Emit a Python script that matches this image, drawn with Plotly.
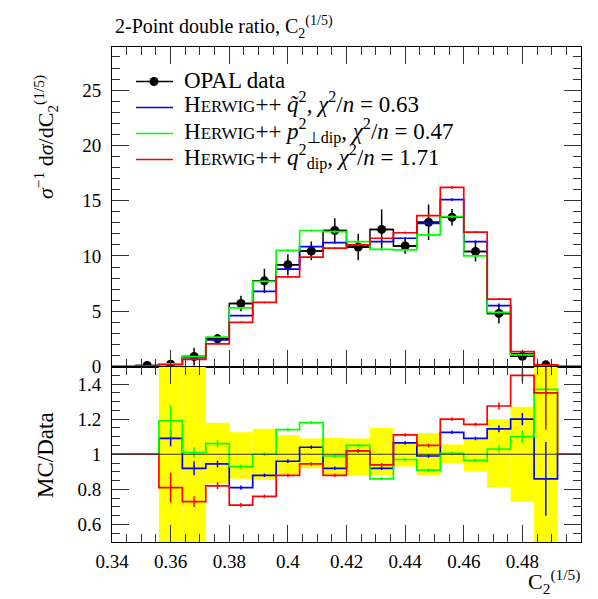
import plotly.graph_objects as go

# ---------------- data ----------------
bin_centers = [0.344, 0.352, 0.360, 0.368, 0.376, 0.384, 0.392, 0.400, 0.408, 0.416,
               0.424, 0.432, 0.440, 0.448, 0.456, 0.464, 0.472, 0.480, 0.488, 0.496]
bin_edges = [0.340, 0.348, 0.356, 0.364, 0.372, 0.380, 0.388, 0.396, 0.404, 0.412, 0.420,
             0.428, 0.436, 0.444, 0.452, 0.460, 0.468, 0.476, 0.484, 0.492, 0.500]
bin_half_width = 0.004

opal = [None, 0.1, 0.2, 0.9, 2.5, 5.7, 7.75, 9.2, 10.45, 12.3,
        10.8, 12.4, 10.9, 13.05, 13.5, 10.4, 4.8, 0.93, 0.15, None]
opal_err = [0, 0.1, 0.15, 0.8, 0.45, 0.7, 1.1, 0.95, 0.85, 1.1,
            1.2, 1.8, 0.7, 1.6, 0.75, 0.9, 0.9, 0.3, 0.15, 0]

herwig_qtilde = [0, 0.02, 0.22, 0.8, 2.4, 4.6, 6.8, 8.8, 10.85, 11.2,
                 11.0, 11.3, 11.6, 12.95, 15.1, 11.3, 5.5, 1.15, 0.12, 0]
herwig_ptdip = [0, 0.02, 0.24, 0.9, 2.65, 5.3, 7.7, 10.5, 12.3, 12.2,
                11.3, 10.6, 10.55, 11.9, 13.55, 10.0, 4.9, 1.05, 0.15, 0]
herwig_qdip = [0, 0.02, 0.16, 0.65, 2.05, 4.0, 5.8, 8.1, 9.9, 10.7,
               11.0, 11.6, 12.1, 13.65, 16.2, 12.15, 6.1, 1.35, 0.15, 0]
herwig_qtilde_err = [0, 0, 0.02, 0.03, 0.05, 0.06, 0.08, 0.1, 0.1, 0.1,
                     0.1, 0.1, 0.1, 0.12, 0.12, 0.1, 0.08, 0.04, 0.03, 0]
herwig_ptdip_err = [0, 0, 0.02, 0.03, 0.05, 0.06, 0.08, 0.1, 0.1, 0.1,
                    0.1, 0.1, 0.1, 0.12, 0.12, 0.1, 0.08, 0.04, 0.03, 0]
herwig_qdip_err = [0, 0, 0.02, 0.03, 0.05, 0.06, 0.08, 0.1, 0.1, 0.1,
                   0.1, 0.1, 0.1, 0.12, 0.12, 0.1, 0.08, 0.04, 0.03, 0]

# ratio panel (MC / Data)
ratio_qtilde = [1, 1, 1.09, 0.92, 0.945, 0.81, 0.88, 0.96, 1.04, 0.92,
                1.02, 0.92, 1.065, 0.99, 1.125, 1.09, 1.145, 1.2, 0.86, 1]
ratio_ptdip = [1, 1, 1.19, 1.01, 1.06, 0.93, 1.0, 1.14, 1.18, 0.99,
               1.05, 0.86, 0.97, 0.91, 1.005, 0.965, 1.03, 1.10, 1.37, 1]
ratio_qdip = [1, 1, 0.81, 0.73, 0.82, 0.71, 0.76, 0.88, 0.945, 0.88,
              1.02, 0.94, 1.11, 1.05, 1.2, 1.17, 1.275, 1.45, 1.35, 1]
ratio_qtilde_err = [0, 0, 0.045, 0.04, 0.02, 0.012, 0.01, 0.01, 0.01, 0.01,
                    0.01, 0.01, 0.01, 0.01, 0.01, 0.01, 0.02, 0.035, 0.21, 0]
ratio_ptdip_err = [0, 0, 0.09, 0.03, 0.02, 0.012, 0.01, 0.01, 0.01, 0.01,
                   0.01, 0.01, 0.01, 0.01, 0.01, 0.01, 0.02, 0.035, 0.2, 0]
ratio_qdip_err = [0, 0, 0.085, 0.03, 0.02, 0.012, 0.01, 0.01, 0.01, 0.01,
                  0.01, 0.01, 0.01, 0.01, 0.01, 0.01, 0.02, 0.04, 0.21, 0]

# data uncertainty band in the ratio panel
band_lo = [1, 1, 0.0, 0.0, 0.83, 0.86, 0.855, 0.885, 0.92, 0.88,
           0.88, 0.88, 0.93, 0.88, 0.95, 0.90, 0.81, 0.73, 0.0, 1]
band_hi = [1, 1, 2.0, 2.0, 1.18, 1.125, 1.145, 1.11, 1.09, 1.093,
           1.09, 1.15, 1.07, 1.12, 1.055, 1.085, 1.2, 1.27, 2.0, 1]

x_tick_vals = [0.34, 0.36, 0.38, 0.40, 0.42, 0.44, 0.46, 0.48]
x_tick_text = ["0.34", "0.36", "0.38", "0.4", "0.42", "0.44", "0.46", "0.48"]
y_main_ticks = [0, 5, 10, 15, 20, 25]
y_ratio_ticks = [0.6, 0.8, 1.0, 1.2, 1.4]
y_ratio_text = ["0.6", "0.8", "1", "1.2", "1.4"]

series = [
    ("blue", herwig_qtilde, herwig_qtilde_err, ratio_qtilde, ratio_qtilde_err),
    ("#00ff00", herwig_ptdip, herwig_ptdip_err, ratio_ptdip, ratio_ptdip_err),
    ("red", herwig_qdip, herwig_qdip_err, ratio_qdip, ratio_qdip_err),
]

# ---------------- geometry ----------------
W_PX, H_PX = 598, 599
L, R, T, B = 112, 581, 47, 542
MID = 366.5
FONT = "Liberation Serif"


def px_x(x):
    return (x - L) / (R - L)


def px_y(y):
    return (B - y) / (B - T)


ratio_top = px_y(MID)

fig = go.Figure()

# ---- ratio band ----
fig.add_trace(go.Bar(
    x=bin_centers, base=band_lo, y=[h - l for h, l in zip(band_hi, band_lo)],
    width=2 * bin_half_width, marker=dict(color="#ffff00", line=dict(width=0)),
    xaxis="x2", yaxis="y2", showlegend=False, hoverinfo="skip"))

# ---- data: step line + points ----
opal_step = [v if v is not None else 0 for v in opal]
fig.add_trace(go.Scatter(
    x=bin_edges, y=opal_step + [opal_step[-1]], mode="lines",
    line=dict(color="black", width=1.5, shape="hv"),
    xaxis="x", yaxis="y", showlegend=False, hoverinfo="skip"))
fig.add_trace(go.Scatter(
    x=bin_centers, y=opal, mode="markers",
    marker=dict(color="black", size=9),
    error_y=dict(type="data", array=opal_err, color="black", thickness=1.5, width=0),
    error_x=dict(type="constant", value=bin_half_width, color="black", thickness=1.5, width=0),
    xaxis="x", yaxis="y", showlegend=False))

# ratio reference line at 1
fig.add_shape(type="line", xref="x2 domain", yref="y2", x0=0, x1=1, y0=1, y1=1,
              line=dict(color="#333333", width=1))

for color, vals, errs, rvals, rerrs in series:
    fig.add_trace(go.Scatter(
        x=bin_edges, y=vals + [vals[-1]], mode="lines",
        line=dict(color=color, width=1.7, shape="hv"),
        xaxis="x", yaxis="y", showlegend=False, hoverinfo="skip"))
    fig.add_trace(go.Scatter(
        x=bin_centers, y=vals, mode="markers",
        marker=dict(size=1, color="rgba(0,0,0,0)"),
        error_y=dict(type="data", array=errs, color=color, thickness=1.5, width=0),
        xaxis="x", yaxis="y", showlegend=False, hoverinfo="skip"))
    fig.add_trace(go.Scatter(
        x=bin_edges, y=rvals + [rvals[-1]], mode="lines",
        line=dict(color=color, width=1.7, shape="hv"),
        xaxis="x2", yaxis="y2", showlegend=False, hoverinfo="skip"))
    fig.add_trace(go.Scatter(
        x=bin_centers, y=rvals, mode="markers",
        marker=dict(size=1, color="rgba(0,0,0,0)"),
        error_y=dict(type="data", array=rerrs, color=color, thickness=1.5, width=0),
        xaxis="x2", yaxis="y2", showlegend=False, hoverinfo="skip"))

tick_col = "#333333"
common_x = dict(range=[0.34, 0.5], showline=True, linecolor="black", linewidth=1,
                mirror="allticks", ticks="inside", ticklen=17, tickcolor=tick_col,
                tickmode="array", tickvals=x_tick_vals + [0.5], ticktext=x_tick_text + [""],
                minor=dict(ticks="inside", ticklen=8, tickmode="linear", tick0=0.34, dtick=0.005,
                           tickcolor=tick_col, showgrid=False),
                showgrid=False, zeroline=False,
                tickfont=dict(family=FONT, size=19, color="black"))

fig.update_layout(
    width=W_PX, height=H_PX,
    margin=dict(l=L, r=W_PX - R, t=T, b=H_PX - B),
    paper_bgcolor="white", plot_bgcolor="white",
    barmode="overlay", showlegend=False,
    font=dict(family=FONT, color="black"),
    xaxis=dict(common_x, anchor="y", showticklabels=False, matches="x2"),
    xaxis2=dict(common_x, anchor="y2", ticklabelstandoff=2),
    yaxis=dict(domain=[ratio_top, 1], range=[0, 28.9], showline=True, linecolor="black",
               linewidth=1, mirror="allticks", ticks="inside", ticklen=17, tickcolor=tick_col,
               tickmode="array", tickvals=y_main_ticks,
               minor=dict(ticks="inside", ticklen=8, tickmode="linear", tick0=0, dtick=1,
                          tickcolor=tick_col, showgrid=False),
               showgrid=False, zeroline=False, ticklabelstandoff=6,
               tickfont=dict(family=FONT, size=19, color="black")),
    yaxis2=dict(domain=[0, ratio_top], range=[0.5, 1.5], showline=True, linecolor="black",
                linewidth=1, mirror="allticks", ticks="inside", ticklen=17, tickcolor=tick_col,
                tickmode="array", tickvals=y_ratio_ticks, ticktext=y_ratio_text,
                minor=dict(ticks="inside", ticklen=8, tickmode="linear", tick0=0.5, dtick=0.05,
                           tickcolor=tick_col, showgrid=False),
                showgrid=False, zeroline=False, ticklabelstandoff=6,
                tickfont=dict(family=FONT, size=19, color="black")),
)

annotations = []
# title
annotations.append(dict(
    text="2-Point double ratio, C<sub>2</sub><sup>(1/5)</sup>",
    xref="paper", yref="paper", x=px_x(113), y=px_y(27), xanchor="left", yanchor="middle",
    showarrow=False, font=dict(family=FONT, size=20, color="black")))
# y title (main)
annotations.append(dict(
    text="<i>σ</i><sup>−1</sup> d<i>σ</i>/dC<sub>2</sub><sup>(1/5)</sup>",
    xref="paper", yref="paper", x=px_x(46), y=px_y(137), xanchor="center", yanchor="middle",
    textangle=-90, showarrow=False, font=dict(family=FONT, size=22, color="black")))
# y title (ratio)
annotations.append(dict(
    text="MC/Data", xref="paper", yref="paper", x=px_x(45), y=px_y(455),
    xanchor="center", yanchor="middle", textangle=-90, showarrow=False,
    font=dict(family=FONT, size=23, color="black")))
# x title
annotations.append(dict(
    text="C<sub>2</sub><sup>(1/5)</sup>", xref="paper", yref="paper",
    x=px_x(582), y=px_y(581), xanchor="right", yanchor="middle", showarrow=False,
    font=dict(family=FONT, size=22, color="black")))

# legend (manual)
sc = "<span style='font-size:17px'>ERWIG</span>"
legend_lines = [
    "OPAL data",
    "H" + sc + "++ <i>q̃</i><sup>2</sup>, <i>χ</i><sup>2</sup>/<i>n</i> = 0.63",
    "H" + sc + "++ <i>p</i><sup>2</sup><sub>⊥dip</sub>, <i>χ</i><sup>2</sup>/<i>n</i> = 0.47",
    "H" + sc + "++ <i>q</i><sup>2</sup><sub>dip</sub>, <i>χ</i><sup>2</sup>/<i>n</i> = 1.71",
]
legend_colors = ["black", "blue", "#00ff00", "red"]
legend_y = [81.5, 107.5, 133.5, 159.5]
legend_text_shift = [-1.5, -5, -2.5, -2.5]
for txt, ly, dy in zip(legend_lines, legend_y, legend_text_shift):
    annotations.append(dict(
        text=txt, xref="paper", yref="paper",
        x=px_x(182), y=px_y(ly + dy), xanchor="left", yanchor="middle", align="left",
        showarrow=False, font=dict(family=FONT, size=23, color="black")))
fig.update_layout(annotations=annotations)

for col, ly in zip(legend_colors, legend_y):
    fig.add_shape(type="line", xref="paper", yref="paper",
                  x0=px_x(136), x1=px_x(173), y0=px_y(ly), y1=px_y(ly),
                  line=dict(color=col, width=1.6))
fig.add_shape(type="circle", xref="paper", yref="paper",
              x0=px_x(149.5), x1=px_x(158.5), y0=px_y(legend_y[0] - 4.5), y1=px_y(legend_y[0] + 4.5),
              fillcolor="black", line=dict(color="black", width=0))

fig.write_html("out.html", config={"displayModeBar": False},
               post_script="document.body.style.margin='0px';")
